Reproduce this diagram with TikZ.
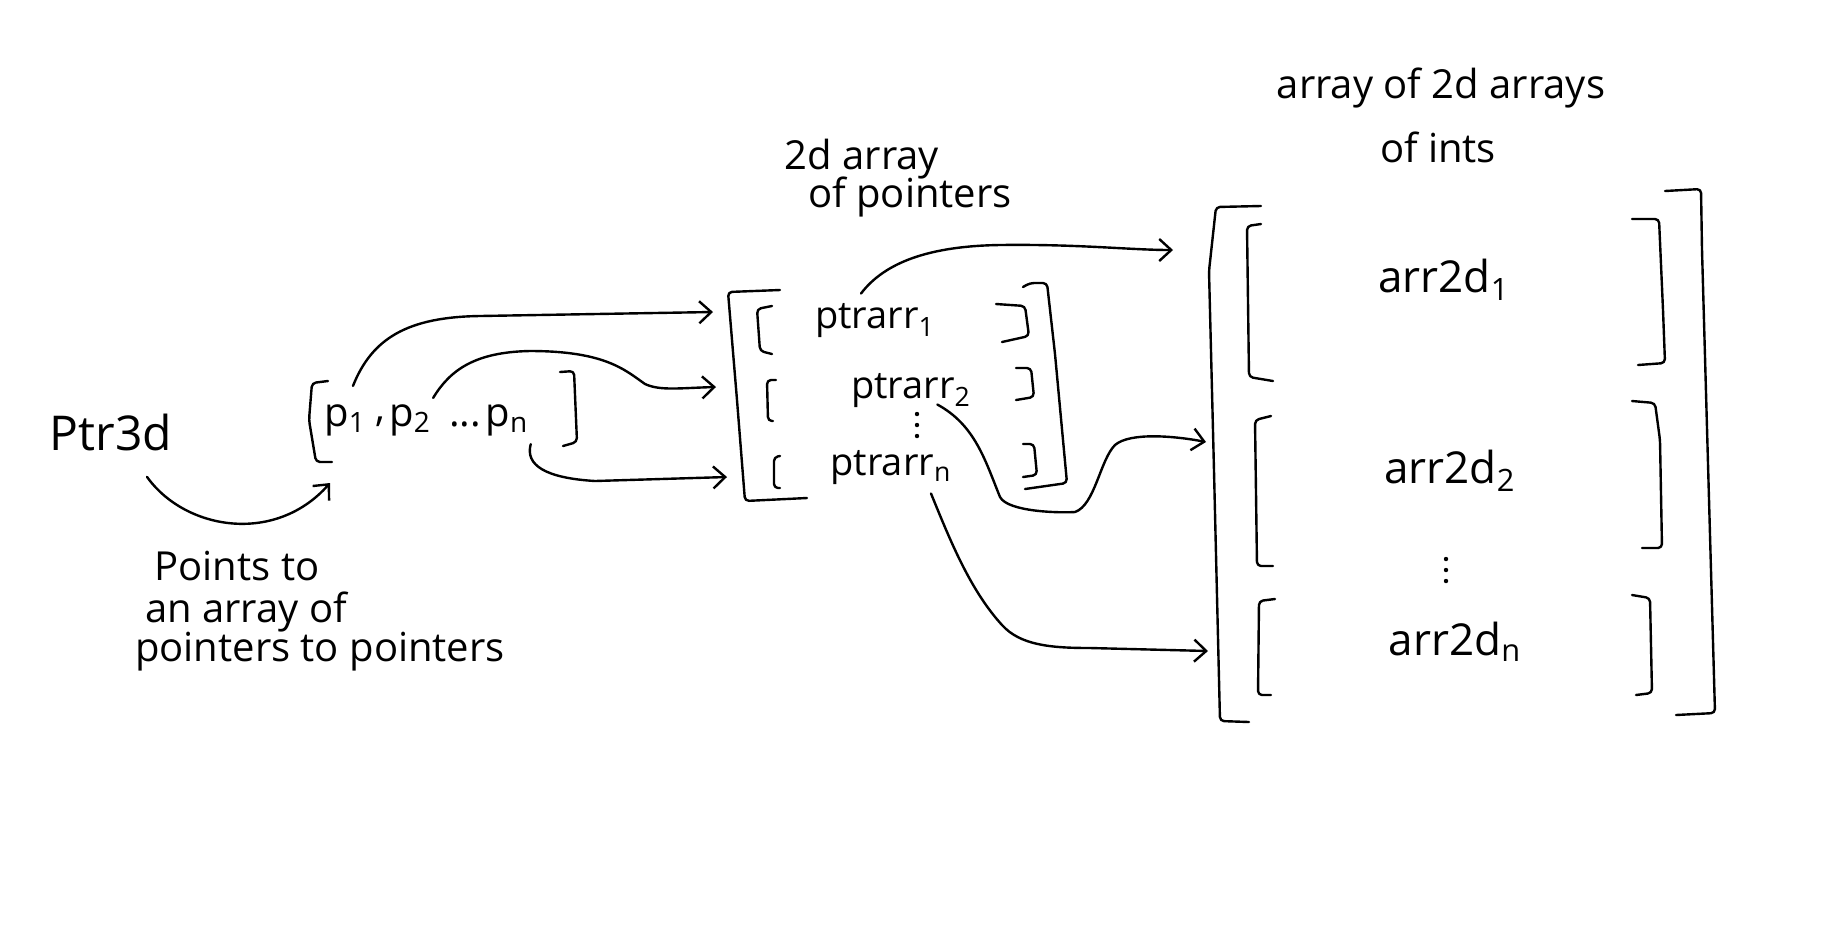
\documentclass[tikz,border=0pt]{standalone}
\usepackage{fontspec}
\setmainfont{Open Sans}
\usetikzlibrary{arrows.meta}
\begin{document}
\begin{tikzpicture}[x=0.5pt,y=-0.5pt,
  ink/.style={line width=1.2pt, line cap=round, line join=round},
  brk/.style={ink, rounded corners=2pt},
  conn/.style={ink, -{Straight Barb[length=6pt,width=11pt,line width=1.2pt]}},
  dot/.style={fill=black},
  txt/.style={inner sep=1pt},
  big/.style={txt, font=\fontsize{24}{28}\selectfont},
  lab/.style={txt, font=\fontsize{20}{23}\selectfont},
  cell/.style={txt, font=\fontsize{19}{22}\selectfont},
  cellb/.style={txt, font=\fontsize{22}{26}\selectfont}]
\useasboundingbox (0,0) rectangle (1848,939);
\fill[white] (0,0) rectangle (1848,939);

% ---------- labels ----------
\node[big] (ptr) at (111,432) {Ptr3d};
\node[lab] (l1) at (237,566) {Points to};
\node[lab] (l2) at (246,612) {an array of};
\node[lab] (l3) at (320,652) {pointers to pointers};
\node[lab] (m1) at (862,159) {2d array};
\node[lab] (m2) at (910,197) {of pointers};
\node[lab] (r1l) at (1441,88) {array of 2d arrays};
\node[lab] (r2l) at (1438,147) {of ints};

% ---------- array of pointers to pointers ----------
\node[lab] (p1) at (345,420) {p\textsubscript{1}};
\node[lab] (pc) at (380,422) {,};
\node[lab] (p2) at (410,420) {p\textsubscript{2}};
\node[lab] (pd) at (465,424) {...};
\node[lab] (pn) at (507,420) {p\textsubscript{n}};
\draw[brk] (328,381) -- (312,383) -- (309,420) -- (316,462) -- (332,462);
\draw[brk] (560,372) -- (574,371) -- (577,442) -- (563,446);

% ---------- 2d array of pointers ----------
\node[cell] (q1) at (875,321) {ptrarr\textsubscript{1}};
\node[cell] (q2) at (911,391) {ptrarr\textsubscript{2}};
\node[cell] (q3) at (891,468) {ptrarr\textsubscript{n}};
\foreach \yy in {414,425,436} \fill[dot] (917,\yy) circle (1.1pt);
\draw[brk] (780,290) -- (728,292) -- (737,400) -- (745,501) -- (807,498);
\draw[brk] (1023,287) -- (1030,283) -- (1047,283) -- (1055,354) -- (1067,483) -- (1025,489);
\draw[brk] (772,306) -- (757,309) -- (760,351) -- (772,354);
\draw[brk] (996,304) -- (1025,306) -- (1029,336) -- (1002,342);
\draw[brk] (776,380) -- (767,380) -- (768,421) -- (773,421);
\draw[brk] (1016,368) -- (1031,368) -- (1034,397) -- (1016,400);
\draw[brk] (780,456) -- (774,457) -- (774,488) -- (780,488);
\draw[brk] (1023,444) -- (1034,444) -- (1037,475) -- (1023,477);

% ---------- array of 2d arrays ----------
\node[cellb] (a1) at (1444,280) {arr2d\textsubscript{1}};
\node[cellb] (a2) at (1450,471) {arr2d\textsubscript{2}};
\node[cellb] (a3) at (1455,642) {arr2d\textsubscript{n}};
\foreach \yy in {559,570,581} \fill[dot] (1446,\yy) circle (1.1pt);
\draw[brk] (1261,206) -- (1216,207) -- (1209,271) -- (1214,471) -- (1220,721) -- (1249,722);
\draw[brk] (1665,191) -- (1701,189) -- (1702,250) -- (1715,713) -- (1676,715);
\draw[brk] (1261,224) -- (1247,226) -- (1249,377) -- (1273,381);
\draw[brk] (1632,219) -- (1659,219) -- (1663,310) -- (1665,363) -- (1638,365);
\draw[brk] (1271,416) -- (1255,420) -- (1257,566) -- (1273,566);
\draw[brk] (1632,401) -- (1655,403) -- (1660,440) -- (1662,548) -- (1642,548);
\draw[brk] (1275,599) -- (1259,601) -- (1258,695) -- (1271,695);
\draw[brk] (1632,595) -- (1650,598) -- (1652,693) -- (1636,695);

% ---------- arrow targets ----------
\coordinate (tA) at (330,483);
\coordinate (tB) at (713,312);
\coordinate (tC) at (716,387);
\coordinate (tD) at (727,477);
\coordinate (tE) at (1173,250);
\coordinate (tF) at (1206,442);
\coordinate (tG) at (1208,651);

% ---------- connectors ----------
\draw[conn] ([xshift=18pt,yshift=-12pt]ptr.south)
  .. controls (185,530) and (275,545) .. (tA);
\draw[conn] ([xshift=4pt,yshift=8pt]p1.north)
  .. controls (372,338) and (408,317) .. (480,316) -- (tB);
\draw[conn] ([yshift=2pt]p2.north east)
  .. controls (450,370) and (475,352) .. (530,351)
  .. controls (605,351) and (625,370) .. (645,384)
  .. controls (660,391) and (680,388) .. (tC);
\draw[conn] ([yshift=-3pt]pn.south east)
  .. controls (525,465) and (545,478) .. (595,481) -- (tD);
\draw[conn] ([xshift=-7pt,yshift=4pt]q1.north)
  .. controls (885,262) and (930,246) .. (1000,245)
  .. controls (1080,244) and (1130,250) .. (tE);
\draw[conn] ([xshift=-18pt,yshift=3pt]q2.south east)
  .. controls (975,425) and (985,460) .. (1000,497)
  .. controls (1008,512) and (1060,513) .. (1075,512)
  .. controls (1095,505) and (1100,460) .. (1115,445)
  .. controls (1130,432) and (1175,436) .. (tF);
\draw[conn] ([xshift=20pt,yshift=-3pt]q3.south)
  .. controls (950,540) and (970,590) .. (1002,625)
  .. controls (1020,645) and (1050,648) .. (1090,648) -- (tG);
\end{tikzpicture}
\end{document}
